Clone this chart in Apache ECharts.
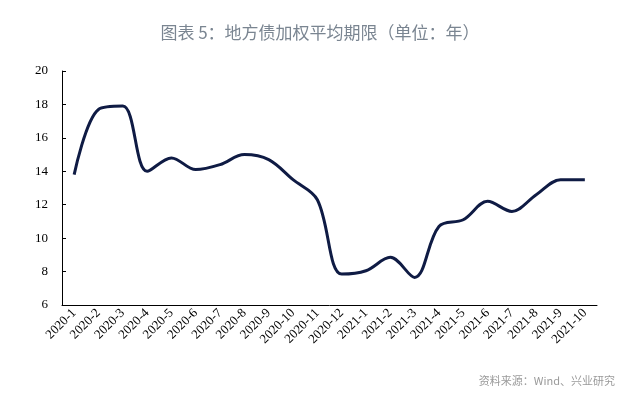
<!DOCTYPE html>
<html>
<head>
<meta charset="utf-8">
<script src="https://cdn.jsdelivr.net/npm/echarts@6/dist/echarts.min.js"></script>
<style>
html,body{margin:0;padding:0;background:#fff;}
#chart{width:640px;height:395px;}
</style>
</head>
<body>
<div id="chart"></div>
<script>
var titleText = '图表 5：地方债加权平均期限（单位：年）';
var sourceText = '资料来源：Wind、兴业研究';
var categories = ['2020-1','2020-2','2020-3','2020-4','2020-5','2020-6','2020-7','2020-8','2020-9','2020-10','2020-11','2020-12','2021-1','2021-2','2021-3','2021-4','2021-5','2021-6','2021-7','2021-8','2021-9','2021-10'];
var durationValues = [13.8, 17.7, 17.9, 14.0, 14.8, 14.1, 14.4, 15.0, 14.7, 13.5, 12.3, 7.85, 8.05, 8.85, 7.65, 10.7, 11.1, 12.2, 11.6, 12.6, 13.5, 13.5];
var yMin = 6, yMax = 20, yStep = 2;

var chart = echarts.init(document.getElementById('chart'), null, {renderer: 'canvas'});
chart.setOption({
  animation: false,
  backgroundColor: '#ffffff',
  title: [{
    text: titleText,
    left: 'center',
    top: 19,
    textStyle: {fontFamily: 'Noto Sans CJK SC', fontSize: 17, fontWeight: 'normal', color: '#7a8591'}
  }, {
    text: sourceText,
    right: 20,
    top: 370,
    textStyle: {fontFamily: 'Noto Sans CJK SC', fontSize: 11, fontWeight: 'normal', color: '#9a9a9a'}
  }],
  grid: {left: 62, right: 43, top: 71, bottom: 90, containLabel: false},
  xAxis: {
    type: 'category',
    data: categories,
    boundaryGap: true,
    axisLine: {lineStyle: {color: '#000', width: 1}},
    axisTick: {inside: true, length: 4, lineStyle: {color: '#000'}},
    axisLabel: {rotate: 45, interval: 0, margin: 6, fontFamily: 'Liberation Serif', fontSize: 13, color: '#000'},
    splitLine: {show: false}
  },
  yAxis: {
    type: 'value',
    min: yMin, max: yMax, interval: yStep,
    axisLine: {show: true, lineStyle: {color: '#000', width: 1}},
    axisTick: {show: true, inside: true, length: 4, lineStyle: {color: '#000'}},
    axisLabel: {margin: 14, fontFamily: 'Liberation Serif', fontSize: 13, color: '#000'},
    splitLine: {show: false}
  },
  series: [{
    type: 'line',
    data: durationValues,
    smooth: 0.35,
    symbol: 'none',
    lineStyle: {color: '#0f1b44', width: 3}
  }]
});
</script>
</body>
</html>
